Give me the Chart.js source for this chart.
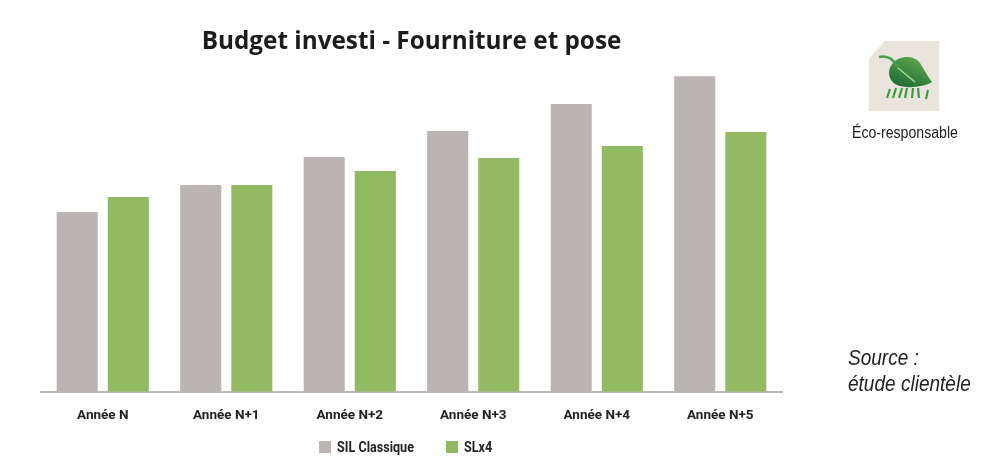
<!DOCTYPE html>
<html>
<head>
<meta charset="utf-8">
<script src="https://cdn.jsdelivr.net/npm/chart.js@4"></script>
<style>
    html, body { margin: 0; padding: 0; background: #fff; width: 985px; height: 475px; overflow: hidden; }
    #wrap { position: absolute; left: 0; top: 0; width: 985px; height: 475px; }
    .side { position: absolute; color: #222; font-family: "Liberation Sans", sans-serif; white-space: nowrap; transform-origin: left top; }
    #eco { left: 852px; top: 123px; font-size: 17px; transform: scaleX(0.83); }
    #source { left: 848px; top: 345px; font-size: 22px; line-height: 26px; font-style: italic; transform: scaleX(0.865); }
    #icon { position: absolute; left: 869px; top: 41px; }
    .swatch { position: absolute; top: 441px; width: 12px; height: 12px; }
    .legendText { top: 439px; font-family: Roboto, sans-serif; font-size: 14px; font-weight: 700; line-height: 17px; transform: scaleX(0.9); }
</style>
</head>
<body>
<div id="wrap"><canvas id="budgetChart" width="985" height="475"></canvas></div>

<svg id="icon" width="70" height="70" viewBox="0 0 70 70">
    <defs>
        <linearGradient id="leaf" x1="0.2" y1="1" x2="0.8" y2="0">
            <stop offset="0" stop-color="#1c6a34"/>
            <stop offset="1" stop-color="#63ab4f"/>
        </linearGradient>
    </defs>
    <polygon points="16,0 70,0 70,70 0,70 0,17" fill="#e9e4dc"/>
    <path d="M24,22 C30,15 44,13 51,22 C55,28 58,35 63,41 C55,46 38,48 28,44 C20,40 17,30 24,22 Z" fill="url(#leaf)"/>
    <path d="M10,16 C18,14 25,18 29,27 L46,41" fill="none" stroke="#46a04c" stroke-width="2.4"/>
    <path d="M29,27 L46,41" fill="none" stroke="#cfe3c0" stroke-width="1"/>
    <g stroke="#3c9a46" stroke-width="2.2">
        <line x1="18" y1="57" x2="21" y2="48"/><line x1="24" y1="57" x2="27" y2="47"/>
        <line x1="30" y1="57" x2="33" y2="47"/><line x1="36" y1="57" x2="38" y2="47"/>
        <line x1="43" y1="57" x2="44" y2="47"/><line x1="50" y1="57" x2="49" y2="47"/>
        <line x1="57" y1="58" x2="59" y2="49"/>
    </g>
</svg>
<div id="eco" class="side">Éco-responsable</div>
<div id="source" class="side">Source :<br>étude clientèle</div>

<div class="swatch" id="swatch0" style="left:319px"></div>
<div class="side legendText" id="legend0" style="left:337px"></div>
<div class="swatch" id="swatch1" style="left:446px"></div>
<div class="side legendText" id="legend1" style="left:464px"></div>

<script>
const labels = ['Année N', 'Année N+1', 'Année N+2', 'Année N+3', 'Année N+4', 'Année N+5'];
const silClassique = [180, 207, 235, 261, 288, 316];
const slx4 = [195, 207, 221, 234, 246, 260];

const data = {
    labels: labels,
    datasets: [{
        label: 'SIL Classique',
        data: silClassique,
        backgroundColor: '#bab5b3',
        barPercentage: 0.804,
        categoryPercentage: 0.827
    }, {
        label: 'SLx4',
        data: slx4,
        backgroundColor: '#92ba63',
        barPercentage: 0.804,
        categoryPercentage: 0.827
    }]
};

const config = {
    type: 'bar',
    data: data,
    options: {
        responsive: false,
        animation: false,
        layout: {
            padding: { left: 41, right: 203, top: 27, bottom: 35 }
        },
        plugins: {
            title: {
                display: true,
                text: 'Budget investi - Fourniture et pose',
                color: '#1c1c1c',
                font: { family: 'Open Sans', size: 24.3, weight: 'bold' },
                padding: { top: 0, bottom: 6 }
            },
            legend: {
                display: false
            },
            tooltip: { enabled: false }
        },
        scales: {
            x: {
                grid: { display: false, drawTicks: false },
                border: { color: '#bdbab5', width: 2 },
                ticks: {
                    color: '#222',
                    padding: 16,
                    font: { family: 'Roboto', size: 13.5, weight: 'bold' }
                }
            },
            y: {
                display: false,
                min: 0,
                max: 330
            }
        }
    }
};

const ctx = document.getElementById('budgetChart').getContext('2d');
new Chart(ctx, config);

// legend sits closer to the axis than the built-in one can, so it is plain html
data.datasets.forEach(function(ds, i) {
    document.getElementById('swatch' + i).style.background = ds.backgroundColor;
    document.getElementById('legend' + i).textContent = ds.label;
});
</script>
</body>
</html>
